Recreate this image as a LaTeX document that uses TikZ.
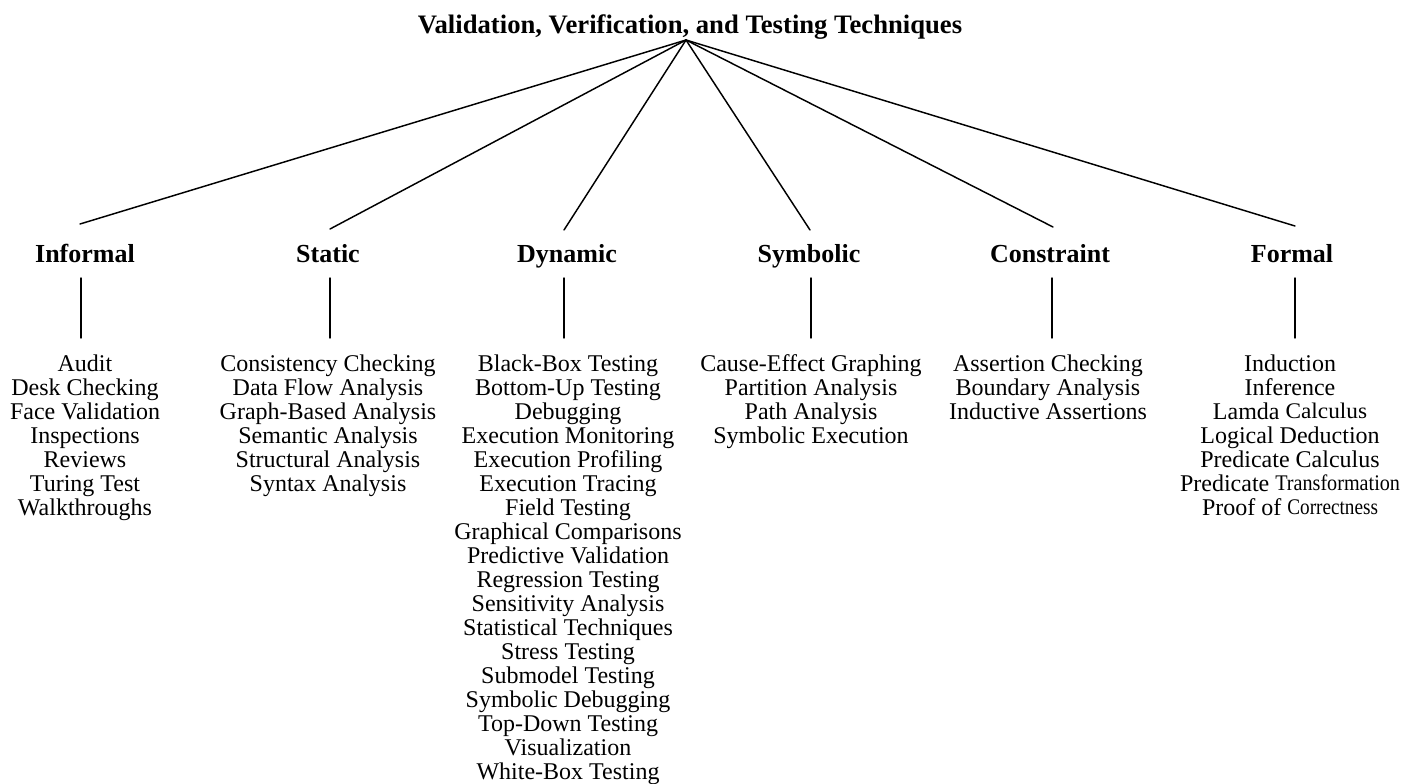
\documentclass[tikz,border=0pt]{standalone}
\usepackage{fontspec}
\usepackage{graphicx}
\setmainfont{Liberation Serif}
\newcommand{\squeezed}[2]{\raisebox{0.9pt}{\scalebox{#1}[0.93]{#2}}}
\begin{document}
\begin{tikzpicture}[x=0.75pt,y=-0.75pt,
  titlebox/.style={font=\bfseries\fontsize{20}{24}\selectfont, inner sep=0pt, anchor=base},
  catbox/.style={font=\bfseries\fontsize{19.5}{24}\selectfont, inner sep=0pt, anchor=base},
  itembox/.style={font=\fontsize{18}{18}\selectfont, align=center, inner sep=0pt, anchor=north},
  link/.style={line width=1.1pt, line cap=round}]
\useasboundingbox (0,0) rectangle (1412,783);

% title and apex
\node[titlebox] (title) at (690,33) {Validation, Verification, and Testing Techniques};
\coordinate (apex) at (686,40);

% categories
\node[catbox] (inf) at (85,262)   {Informal};
\node[catbox] (sta) at (328,262)  {Static};
\node[catbox] (dyn) at (567,262)  {Dynamic};
\node[catbox] (sym) at (809,262)  {Symbolic};
\node[catbox] (con) at (1050,262) {Constraint};
\node[catbox] (for) at (1292,262) {Formal};

% upper ends of the fan lines
\coordinate (einf) at (80,224);
\coordinate (esta) at (330,229);
\coordinate (edyn) at (564,230);
\coordinate (esym) at (810,230);
\coordinate (econ) at (1053,227);
\coordinate (efor) at (1295,226);

% vertical stubs
\coordinate (vinf1) at (81,278);   \coordinate (vinf2) at (81,338);
\coordinate (vsta1) at (330,278);  \coordinate (vsta2) at (330,338);
\coordinate (vdyn1) at (564,278);  \coordinate (vdyn2) at (564,338);
\coordinate (vsym1) at (811,278);  \coordinate (vsym2) at (811,338);
\coordinate (vcon1) at (1052,278); \coordinate (vcon2) at (1052,338);
\coordinate (vfor1) at (1295,278); \coordinate (vfor2) at (1295,338);

% item lists
\node[itembox] (linf) at (85,354.5) {Audit\\Desk Checking\\Face Validation\\Inspections\\Reviews\\Turing Test\\Walkthroughs};
\node[itembox] (lsta) at (328,354.5) {Consistency Checking\\Data Flow Analysis\\Graph-Based Analysis\\Semantic Analysis\\Structural Analysis\\Syntax Analysis};
\node[itembox] (ldyn) at (568,354.5) {Black-Box Testing\\Bottom-Up Testing\\Debugging\\Execution Monitoring\\Execution Profiling\\Execution Tracing\\Field Testing\\Graphical Comparisons\\Predictive Validation\\Regression Testing\\Sensitivity Analysis\\Statistical Techniques\\Stress Testing\\Submodel Testing\\Symbolic Debugging\\Top-Down Testing\\Visualization\\White-Box Testing};
\node[itembox] (lsym) at (811,354.5) {Cause-Effect Graphing\\Partition Analysis\\Path Analysis\\Symbolic Execution};
\node[itembox] (lcon) at (1048,354.5) {Assertion Checking\\Boundary Analysis\\Inductive Assertions};
\node[itembox] (lfor) at (1290,354.5) {Induction\\Inference\\Lamda \squeezed{0.97}{Calculus}\\Logical Deduction\\Predicate Calculus\\Predicate \squeezed{0.84}{Transformation}\\Proof of \squeezed{0.8}{Correctness}};

% connectors
\foreach \e in {einf,esta,edyn,esym,econ,efor}
  \draw[link] (apex) -- (\e);
\foreach \v in {inf,sta,dyn,sym,con,for}
  \draw[link] (v\v1) -- (v\v2);
\end{tikzpicture}
\end{document}
